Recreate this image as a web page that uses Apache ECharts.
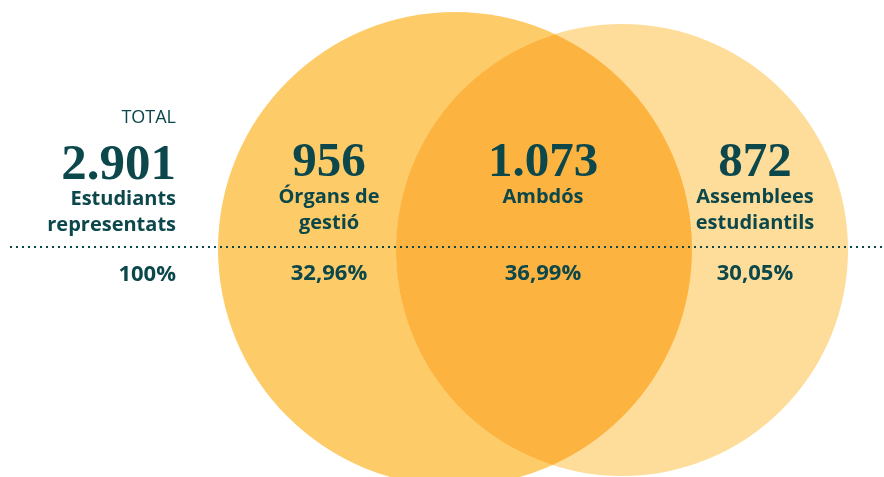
<!DOCTYPE html>
<html>
<head>
<meta charset="utf-8">
<script src="https://cdn.jsdelivr.net/npm/echarts@6/dist/echarts.min.js"></script>
<style>
  html, body { margin: 0; padding: 0; background: #fff; }
  #main { width: 884px; height: 477px; }
</style>
</head>
<body>
<div id="main"></div>
<script>
// dades
const groupNames = ['Órgans de\ngestió', 'Ambdós', 'Assemblees\nestudiantils']
const groupCounts = [956, 1073, 872]
const groupShares = ['32,96%', '36,99%', '30,05%']
const totalCount = 2901
const totalLabel = 'Estudiants\nrepresentats'
const totalShare = '100%'

// cercles: [cx, cy, radi] en unitats de l'eix (0..884 x 0..477)
const circleLeft = [455, 249, 237]
const circleRight = [622, 250, 226]

const ink = '#0b474b'
const fmt = n => String(n).replace(/\B(?=(\d{3})+(?!\d))/g, '.')

const myChart = echarts.init(document.getElementById('main'))

const numFont = 'bold 49px "Liberation Serif", serif'
const lblFont = 'bold 20px "Open Sans", sans-serif'
const pctFont = 'bold 22px "Open Sans", sans-serif'

const textEl = (x, y, text, font, align) => ({
  type: 'text', x: x, y: y, z: 100,
  style: { text: text, font: font, fill: ink, align: align || 'center', verticalAlign: 'middle', lineHeight: 26 }
})

const colX = [329, 543, 755]
const graphics = [
  textEl(176, 118, 'TOTAL', '18px "Open Sans", sans-serif', 'right'),
  textEl(176, 166, fmt(totalCount), 'bold 51px "Liberation Serif", serif', 'right'),
  textEl(176, 212, totalLabel, lblFont, 'right'),
  textEl(176, 275, totalShare, pctFont, 'right')
]
groupNames.forEach((name, i) => {
  graphics.push(textEl(colX[i], 163, fmt(groupCounts[i]), numFont))
  graphics.push(textEl(colX[i], name.indexOf('\n') >= 0 ? 210 : 197, name, lblFont))
  graphics.push(textEl(colX[i], 274, groupShares[i], pctFont))
})
// línia de punts
graphics.push({
  type: 'line', z: 100, shape: { x1: 10, y1: 247, x2: 884, y2: 247 },
  style: { stroke: ink, lineWidth: 2, lineDash: [2, 4] }
})

const fills = ['#fdcb67', '#fedd9a', '#fdb33f']

const option = {
  animation: false,
  grid: { left: 0, right: 0, top: 0, bottom: 0 },
  xAxis: { type: 'value', min: 0, max: 884, show: false },
  yAxis: { type: 'value', min: 0, max: 477, inverse: true, show: false },
  series: [{
    type: 'custom',
    coordinateSystem: 'cartesian2d',
    z: 1,
    data: [circleLeft, circleRight],
    renderItem: (params, api) => {
      const p = api.coord([api.value(0), api.value(1)])
      const r = api.size([api.value(2), api.value(2)])[0]
      const children = [{
        type: 'circle',
        shape: { cx: p[0], cy: p[1], r: r },
        style: { fill: fills[params.dataIndex] }
      }]
      if (params.dataIndex === 1) {
        // intersecció (lent) entre els dos cercles
        const q = api.coord([circleLeft[0], circleLeft[1]])
        const r1 = api.size([circleLeft[2], circleLeft[2]])[0]
        const dx = p[0] - q[0], dy = p[1] - q[1]
        const d = Math.sqrt(dx * dx + dy * dy)
        const a = (d * d + r1 * r1 - r * r) / (2 * d)
        const h = Math.sqrt(r1 * r1 - a * a)
        const mx = q[0] + a * dx / d, my = q[1] + a * dy / d
        const tx = mx + h * dy / d, ty = my - h * dx / d
        const bx = mx - h * dy / d, by = my + h * dx / d
        children.push({
          type: 'path',
          shape: {
            pathData: 'M' + tx + ' ' + ty +
              ' A' + r1 + ' ' + r1 + ' 0 0 1 ' + bx + ' ' + by +
              ' A' + r + ' ' + r + ' 0 0 1 ' + tx + ' ' + ty + ' Z'
          },
          style: { fill: fills[2] }
        })
      }
      return { type: 'group', children: children }
    }
  }],
  graphic: graphics
}
myChart.setOption(option)
</script>
</body>
</html>
